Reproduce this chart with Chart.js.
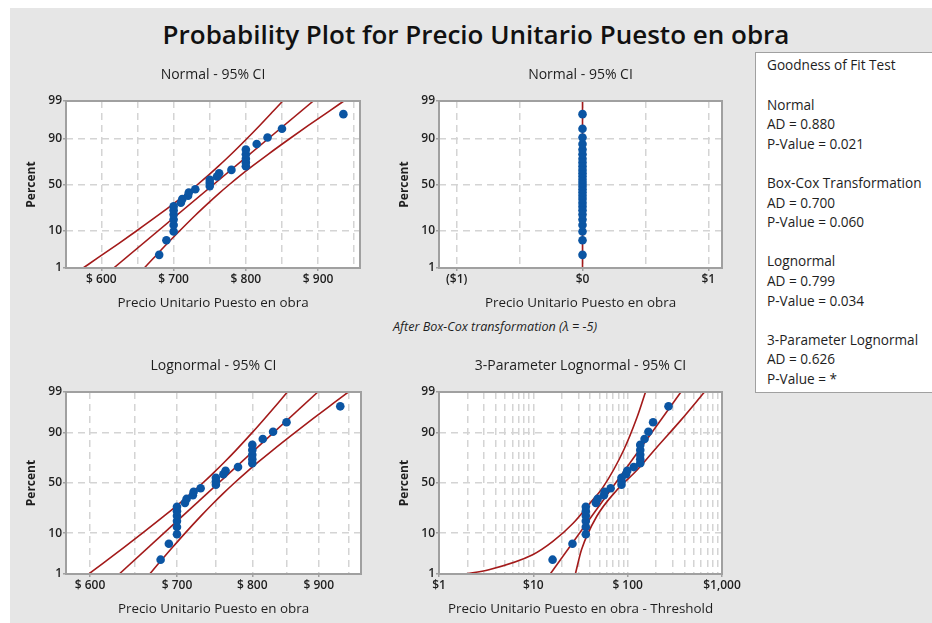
<!DOCTYPE html>
<html>
<head>
<meta charset="utf-8">
<script src="https://cdn.jsdelivr.net/npm/chart.js@4.4.1/dist/chart.umd.min.js"></script>
<style>
  html, body { margin: 0; padding: 0; background: #ffffff; }
  #page { position: relative; width: 932px; height: 623px; overflow: hidden; background: #ffffff;
          font-family: "Open Sans", "Noto Sans", sans-serif; color: #1e1e1e; }
  #sheet { position: absolute; left: 10px; top: 8px; right: 0; bottom: 0; background: #e6e6e6; }
  #mainTitle { position: absolute; left: 0; width: 952px; top: 19px; text-align: center; white-space: nowrap; }
  #mainTitle span { font-size: 26px; font-weight: 600; line-height: 30px; color: #111; }
  canvas { position: absolute; }
  #note { position: absolute; left: 393px; top: 318px; font-size: 12.6px; font-style: italic; line-height: 18px; white-space: nowrap; }
  #gof { position: absolute; left: 755px; top: 52px; width: 200px; height: 339px; background: #ffffff; border: 1.5px solid #a0a0a0; }
  #gof div { position: absolute; left: 11px; font-size: 13.6px; line-height: 19.6px; white-space: nowrap; }
</style>
</head>
<body>
<div id="page">
  <div id="sheet"></div>
  <div id="mainTitle"><span>Probability Plot for Precio Unitario Puesto en obra</span></div>
  <div id="note">After Box-Cox transformation (λ = -5)</div>
  <div id="gof"></div>
</div>
<script>
// ---- sample: sorted prices and their plotting positions (percent) ----
const plotPercent = [2.5, 6.0, 9.5, 13.0, 16.5, 20.1, 23.6, 27.1, 30.6, 34.2, 37.7, 41.2, 44.7, 48.2,
                     51.8, 55.3, 58.8, 62.3, 65.8, 69.4, 72.9, 76.4, 80.0, 83.5, 87.0, 90.5, 94.0, 97.5];
const precio = [680, 690, 700, 700, 700, 700, 700, 700, 710, 712, 720, 721, 730, 750,
                750, 750, 760, 763, 780, 800, 800, 800, 800, 800, 815, 830, 850, 935];
const boxCoxLambda = -5;
const threshold = 664;

// ---- fitted lines and 95% confidence bands ----
const bandPercent = [1, 2, 5, 10, 20, 30, 40, 50, 60, 70, 80, 90, 95, 98, 99];

const normalFitPercent = [1, 99];
const normalFitX = [617.0, 893.4];
const normalLower = [574.7, 594.4, 623.8, 649.4, 679.6, 700.6, 717.9, 733.2, 747.9, 762.8, 779.6, 801.6, 819.2, 838.4, 851.1];
const normalUpper = [659.3, 672.0, 691.2, 708.8, 730.8, 747.6, 762.5, 777.2, 792.5, 809.8, 830.8, 861.0, 886.6, 916.0, 935.7];

const boxCoxFitPercent = [1, 99];
const boxCoxFitX = [0, 0];

const lognormFitPercent = [1, 99];
const lognormFitX = [631.9, 898.6];
const lognormLower = [598.7, 613.9, 637.3, 658.4, 684.3, 702.9, 718.4, 732.7, 746.5, 760.9, 777.3, 799.5, 817.5, 837.8, 851.4];
const lognormUpper = [666.9, 677.7, 694.5, 710.2, 730.5, 746.2, 760.6, 774.9, 790.3, 807.8, 829.7, 862.3, 890.9, 924.9, 948.4];

const logn3FitPercent = [1, 99];
const logn3FitX = [15.1, 367];
const logn3LowerPercent = [1, 1.33, 3.33, 6.76, 15.2, 30.2, 46.3, 79.9, 95.4, 99];
const logn3LowerX = [1.87, 3.38, 9.84, 16.1, 26.4, 39.8, 55.3, 90.6, 126, 154.6];
const logn3UpperPercent = [1, 4.4, 19.6, 42.9, 63.0, 82.3, 94.6, 99];
const logn3UpperX = [27.9, 32.4, 46.9, 76.9, 126, 206, 367, 652];

// ---- axis ticks ----
const percentTicks = [1, 10, 50, 90, 99];
const percentGrid = [10, 50, 90];
const priceTicks = [600, 650, 700, 750, 800, 850, 900, 950];
const priceLabels = ['$ 600', '', '$ 700', '', '$ 800', '', '$ 900', ''];
const boxCoxTicks = [-1, -0.5, 0, 0.5, 1];
const boxCoxLabels = ['($1)', '', '$0', '', '$1'];
const logTicks = [1, 2, 3, 4, 5, 6, 7, 8, 9, 10, 20, 30, 40, 50, 60, 70, 80, 90, 100,
                  200, 300, 400, 500, 600, 700, 800, 900, 1000];
const logLabels = ['$1', '', '', '', '', '', '', '', '', '$10', '', '', '', '', '', '', '', '', '$ 100',
                   '', '', '', '', '', '', '', '', '$1,000'];

// ---- goodness of fit text ----
const gofLines = ['Goodness of Fit Test', '', 'Normal', 'AD = 0.880', 'P-Value = 0.021', '',
                  'Box-Cox Transformation', 'AD = 0.700', 'P-Value = 0.060', '',
                  'Lognormal', 'AD = 0.799', 'P-Value = 0.034', '',
                  '3-Parameter Lognormal', 'AD = 0.626', 'P-Value = *'];

const gof = document.getElementById('gof');
gofLines.forEach((t, i) => {
  const d = document.createElement('div');
  d.textContent = t;
  d.style.top = (2.4 + i * 19.6) + 'px';
  gof.appendChild(d);
});

// ---- normal probability scale ----
function probit(p) {
  const a = [-3.969683028665376e+01, 2.209460984245205e+02, -2.759285104469687e+02, 1.383577518672690e+02, -3.066479806614716e+01, 2.506628277459239e+00];
  const b = [-5.447609879822406e+01, 1.615858368580409e+02, -1.556989798598866e+02, 6.680131188771884e+01, -1.328068155288572e+01];
  const c = [-7.784894002430293e-03, -3.223964580411365e-01, -2.400758277161838e+00, -2.549732539343734e+00, 4.374664141464968e+00, 2.938163982698783e+00];
  const d = [7.784695709041462e-03, 3.224671290700398e-01, 2.445134137142996e+00, 3.754408661907416e+00];
  const pl = 0.02425;
  let q, r;
  if (p < pl) {
    q = Math.sqrt(-2 * Math.log(p));
    return (((((c[0]*q+c[1])*q+c[2])*q+c[3])*q+c[4])*q+c[5]) / ((((d[0]*q+d[1])*q+d[2])*q+d[3])*q+1);
  }
  if (p > 1 - pl) {
    q = Math.sqrt(-2 * Math.log(1 - p));
    return -(((((c[0]*q+c[1])*q+c[2])*q+c[3])*q+c[4])*q+c[5]) / ((((d[0]*q+d[1])*q+d[2])*q+d[3])*q+1);
  }
  q = p - 0.5; r = q * q;
  return (((((a[0]*r+a[1])*r+a[2])*r+a[3])*r+a[4])*r+a[5])*q / (((((b[0]*r+b[1])*r+b[2])*r+b[3])*r+b[4])*r+1);
}
function normCdf(z) {
  const t = 1 / (1 + 0.2316419 * Math.abs(z));
  const y = 0.3989423 * Math.exp(-z * z / 2) * t * (0.3193815 + t * (-0.3565638 + t * (1.781478 + t * (-1.821256 + t * 1.330274))));
  return z > 0 ? 1 - y : y;
}

class ProbabilityScale extends Chart.LinearScale {
  configure() {
    super.configure();
    this._zStart = probit(this.min / 100);
    this._zEnd = probit(this.max / 100);
  }
  getPixelForValue(value) {
    const z = probit(value / 100);
    return this.getPixelForDecimal((z - this._zStart) / (this._zEnd - this._zStart));
  }
  getValueForPixel(pixel) {
    const dec = this.getDecimalForPixel(pixel);
    return 100 * normCdf(this._zStart + dec * (this._zEnd - this._zStart));
  }
}
ProbabilityScale.id = 'probability';
ProbabilityScale.defaults = {};
Chart.register(ProbabilityScale);

// ---- shared styling ----
const FONT = "'Open Sans', 'Noto Sans', sans-serif";
const INK = '#1e1e1e';
const GRID = '#d4d4d4';
const FRAME = '#a0a0a0';
const FITLINE = '#a31a1a';
const DOT = '#0b55a3';
const CLEAR = 'rgba(0,0,0,0)';

const plotFrame = {
  id: 'plotFrame',
  beforeDraw(chart) {
    const { ctx, chartArea: a } = chart;
    ctx.save();
    ctx.fillStyle = '#ffffff';
    ctx.fillRect(a.left, a.top, a.right - a.left, a.bottom - a.top);
    ctx.restore();
  },
  afterDatasetsDraw(chart) {
    const { ctx, chartArea: a } = chart;
    ctx.save();
    ctx.strokeStyle = FRAME;
    ctx.lineWidth = 2;
    ctx.strokeRect(a.left, a.top, a.right - a.left, a.bottom - a.top);
    ctx.restore();
  }
};

function pairs(xs, ys) { return xs.map((x, i) => ({ x: x, y: ys[i] })); }

function lineSet(data) {
  const vertical = data.every(p => p.x === data[0].x);
  return { data: data, showLine: true, pointRadius: 0, borderColor: FITLINE, borderWidth: 1.6,
           tension: 0, cubicInterpolationMode: vertical ? 'default' : 'monotone', fill: false };
}

const page = document.getElementById('page');

function panel(cfg) {
  const axisW = 56, titleH = 46, axisH = 50;
  const w = axisW * 2 + cfg.plotW, h = titleH + cfg.plotH + axisH;
  const canvas = document.createElement('canvas');
  canvas.width = w; canvas.height = h;
  canvas.style.left = (cfg.left - axisW) + 'px';
  canvas.style.top = (cfg.top - titleH) + 'px';
  canvas.style.width = w + 'px'; canvas.style.height = h + 'px';
  page.appendChild(canvas);

  const datasets = [
    { data: cfg.points, pointRadius: 4.3, pointHoverRadius: 4.3, backgroundColor: DOT, borderWidth: 0, showLine: false }
  ].concat(cfg.lines.map(lineSet));

  return new Chart(canvas, {
    type: 'scatter',
    data: { datasets: datasets },
    plugins: [plotFrame],
    options: {
      responsive: false, animation: false, devicePixelRatio: 1,
      layout: { padding: { left: 0, right: axisW, top: 0, bottom: 0 } },
      plugins: {
        legend: { display: false },
        tooltip: { enabled: false },
        title: { display: true, fullSize: false, text: cfg.title, color: INK,
                 font: { family: FONT, size: 14, weight: 'normal' }, padding: { top: 11.6, bottom: 17.6 } }
      },
      scales: {
        x: {
          type: cfg.xType, min: cfg.xMin, max: cfg.xMax, bounds: 'data',
          afterBuildTicks: s => { s.ticks = cfg.xTicks.map(v => ({ value: v })); },
          afterFit: s => { s.height = axisH; s.paddingLeft = 0; s.paddingRight = 0; },
          ticks: { callback: (v, i) => cfg.xLabels[i], autoSkip: false, maxRotation: 0, minRotation: 0,
                   font: { family: FONT, size: 12, weight: 600 }, color: INK, padding: 1.5 },
          grid: { color: GRID, lineWidth: 1.5, tickLength: 3, tickWidth: 1.5,
                  tickColor: c => (cfg.xLabels[c.index] ? FRAME : CLEAR) },
          border: { display: false, dash: [7, 5] },
          title: { display: true, text: cfg.xTitle, color: INK,
                   font: { family: FONT, size: 13.4, weight: 'normal' }, padding: { top: 0, bottom: 6.5 } }
        },
        y: {
          type: 'probability', min: 1, max: 99, bounds: 'data',
          afterBuildTicks: s => { s.ticks = percentTicks.map(v => ({ value: v })); },
          afterFit: s => { s.width = axisW; s.paddingTop = 0; s.paddingBottom = 0; },
          ticks: { callback: v => String(v), autoSkip: false,
                   font: { family: FONT, size: 12, weight: 600 }, color: INK, padding: 1 },
          grid: { color: c => (c.tick && percentGrid.includes(c.tick.value) ? GRID : CLEAR),
                  lineWidth: 1.5, tickLength: 3, tickWidth: 1.5, tickColor: FRAME },
          border: { display: false, dash: [7, 5] },
          title: { display: true, text: 'Percent', color: INK,
                   font: { family: FONT, size: 12, weight: 'bold' }, padding: { top: 14, bottom: 0 } }
        }
      }
    }
  });
}

const XTITLE = 'Precio Unitario Puesto en obra';

// Normal
panel({
  left: 66, top: 101, plotW: 294, plotH: 167, title: 'Normal - 95% CI', xTitle: XTITLE,
  xType: 'linear', xMin: 551, xMax: 958, xTicks: priceTicks, xLabels: priceLabels,
  points: pairs(precio, plotPercent),
  lines: [pairs(normalFitX, normalFitPercent), pairs(normalLower, bandPercent), pairs(normalUpper, bandPercent)]
});

// Normal after Box-Cox transformation
panel({
  left: 439, top: 101, plotW: 283, plotH: 167, title: 'Normal - 95% CI', xTitle: XTITLE,
  xType: 'linear', xMin: -1.141, xMax: 1.109, xTicks: boxCoxTicks, xLabels: boxCoxLabels,
  points: pairs(precio.map(v => Math.pow(v, boxCoxLambda)), plotPercent),
  lines: [pairs(boxCoxFitX, boxCoxFitPercent)]
});

// Lognormal
panel({
  left: 66, top: 392, plotW: 295, plotH: 182, title: 'Lognormal - 95% CI', xTitle: XTITLE,
  xType: 'logarithmic', xMin: 575, xMax: 970, xTicks: priceTicks, xLabels: priceLabels,
  points: pairs(precio, plotPercent),
  lines: [pairs(lognormFitX, lognormFitPercent), pairs(lognormLower, bandPercent), pairs(lognormUpper, bandPercent)]
});

// 3-parameter lognormal
panel({
  left: 439, top: 392, plotW: 283, plotH: 182, title: '3-Parameter Lognormal - 95% CI',
  xTitle: XTITLE + ' - Threshold',
  xType: 'logarithmic', xMin: 1, xMax: 1000, xTicks: logTicks, xLabels: logLabels,
  points: pairs(precio.map(v => v - threshold), plotPercent),
  lines: [pairs(logn3FitX, logn3FitPercent), pairs(logn3LowerX, logn3LowerPercent), pairs(logn3UpperX, logn3UpperPercent)]
});
</script>
</body>
</html>
